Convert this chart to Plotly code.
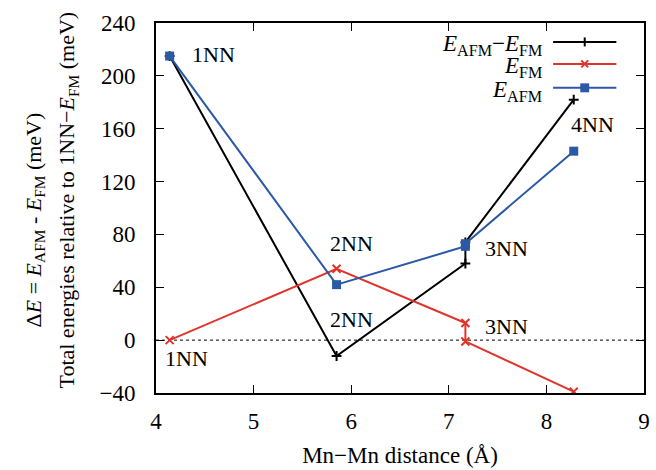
import plotly.graph_objects as go

# Mn-Mn neighbour distances (Å); the 3NN shell has two configurations
distance = [4.14, 5.85, 7.17, 7.17, 8.28]
delta_e = [215, -12, 58, 74, 182]      # E_AFM - E_FM (meV)
e_fm = [0, 54, 13, -1, -39]            # E_FM relative to 1NN (meV)
e_afm = [215, 42, 71, 73, 143]         # E_AFM relative to 1NN (meV)

y_ticks = [-40, 0, 40, 80, 120, 160, 200, 240]
x_ticks = [4, 5, 6, 7, 8, 9]

# neighbour-shell labels: (text, x, y)
shell_labels = [
    ("1NN", 4.59, 216), ("1NN", 4.31, -14),
    ("2NN", 6.00, 73), ("2NN", 6.00, 16),
    ("3NN", 7.59, 69), ("3NN", 7.59, 10.5),
    ("4NN", 8.47, 163), ("4NN", 8.52, -43),
]

BLACK = "#000000"
RED = "#e0342b"
BLUE = "#2c59a6"
FONT = "Liberation Serif, Times New Roman, Times, serif"

W, H = 656, 470
L, R, T, B = 156, 6, 23, 76
PW, PH = W - L - R, H - T - B


def px(x):
    return (x - L) / PW


def py(y):
    return (H - B - y) / PH


fig = go.Figure()
fig.add_trace(go.Scatter(x=distance, y=delta_e, mode="lines+markers",
                         line=dict(color=BLACK, width=2),
                         marker=dict(symbol="cross-thin", size=7,
                                     line=dict(color=BLACK, width=2)),
                         showlegend=False))
fig.add_trace(go.Scatter(x=distance, y=e_fm, mode="lines+markers",
                         line=dict(color=RED, width=2),
                         marker=dict(symbol="x-thin", size=8,
                                     line=dict(color=RED, width=2)),
                         showlegend=False))
fig.add_trace(go.Scatter(x=distance, y=e_afm, mode="lines+markers",
                         line=dict(color=BLUE, width=2),
                         marker=dict(symbol="square", size=9, color=BLUE),
                         showlegend=False))

shapes = [
    # zero reference line
    dict(type="line", xref="paper", yref="y", x0=0, x1=1, y0=0, y1=0,
         line=dict(color=BLACK, width=1, dash="dot"), layer="below"),
]

# hand-made key: text right-aligned, line sample with marker on the right
key = [
    ("<i>E</i><sub>AFM</sub>−<i>E</i><sub>FM</sub>", BLACK, "plus", 42),
    ("<i>E</i><sub>FM</sub>", RED, "x", 64),
    ("<i>E</i><sub>AFM</sub>", BLUE, "square", 88),
]
annotations = []
for text, color, sym, ypix in key:
    shapes.append(dict(type="line", xref="paper", yref="paper",
                       x0=px(558), x1=px(622), y0=py(ypix), y1=py(ypix),
                       line=dict(color=color, width=2)))
    mx, my = 590, ypix
    if sym == "plus":
        shapes.append(dict(type="line", xref="paper", yref="paper",
                           x0=px(mx), x1=px(mx), y0=py(my - 4.5), y1=py(my + 4.5),
                           line=dict(color=color, width=2)))
    elif sym == "x":
        for d in (1, -1):
            shapes.append(dict(type="line", xref="paper", yref="paper",
                               x0=px(mx - 3.5), x1=px(mx + 3.5),
                               y0=py(my - 3.5 * d), y1=py(my + 3.5 * d),
                               line=dict(color=color, width=2)))
    else:
        shapes.append(dict(type="rect", xref="paper", yref="paper",
                           x0=px(mx - 4.5), x1=px(mx + 4.5),
                           y0=py(my - 4.5), y1=py(my + 4.5),
                           line=dict(width=0), fillcolor=color))
    annotations.append(dict(text=text, xref="paper", yref="paper",
                            x=px(549), y=py(ypix + 3), xanchor="right",
                            yanchor="middle", showarrow=False,
                            font=dict(family=FONT, size=23, color=BLACK)))

for text, x, y in shell_labels:
    annotations.append(dict(text=text, x=x, y=y, xref="x", yref="y",
                            showarrow=False,
                            font=dict(family=FONT, size=22, color=BLACK)))

# two-line y-axis title
annotations.append(dict(
    text="Δ<i>E</i> = <i>E</i><sub>AFM</sub> - <i>E</i><sub>FM</sub> (meV)",
    xref="paper", yref="paper", x=0, y=py(221), xshift=-121,
    textangle=-90, showarrow=False, xanchor="center", yanchor="middle",
    font=dict(family=FONT, size=22, color=BLACK)))
annotations.append(dict(
    text="Total energies relative to 1NN−<i>E</i><sub>FM</sub> (meV)",
    xref="paper", yref="paper", x=0, y=py(201), xshift=-88,
    textangle=-90, showarrow=False, xanchor="center", yanchor="middle",
    font=dict(family=FONT, size=22, color=BLACK)))

axis_common = dict(showgrid=False, zeroline=False, showline=True,
                   linecolor=BLACK, linewidth=2, mirror="ticks",
                   ticks="inside", ticklen=8, tickwidth=1, tickcolor=BLACK,
                   tickfont=dict(family=FONT, size=23, color=BLACK))

fig.update_layout(
    width=W, height=H,
    margin=dict(l=L, r=R, t=T, b=B),
    paper_bgcolor="white", plot_bgcolor="white",
    xaxis=dict(range=[4, 9], tickvals=x_ticks, ticklabelstandoff=6,
               title=dict(text="Mn−Mn distance (Å)", standoff=14,
                          font=dict(family=FONT, size=23, color=BLACK)),
               **axis_common),
    yaxis=dict(range=[-40, 240], tickvals=y_ticks, ticklabelstandoff=14,
               **axis_common),
    shapes=shapes,
    annotations=annotations,
    showlegend=False,
)

fig.write_html("out.html")
